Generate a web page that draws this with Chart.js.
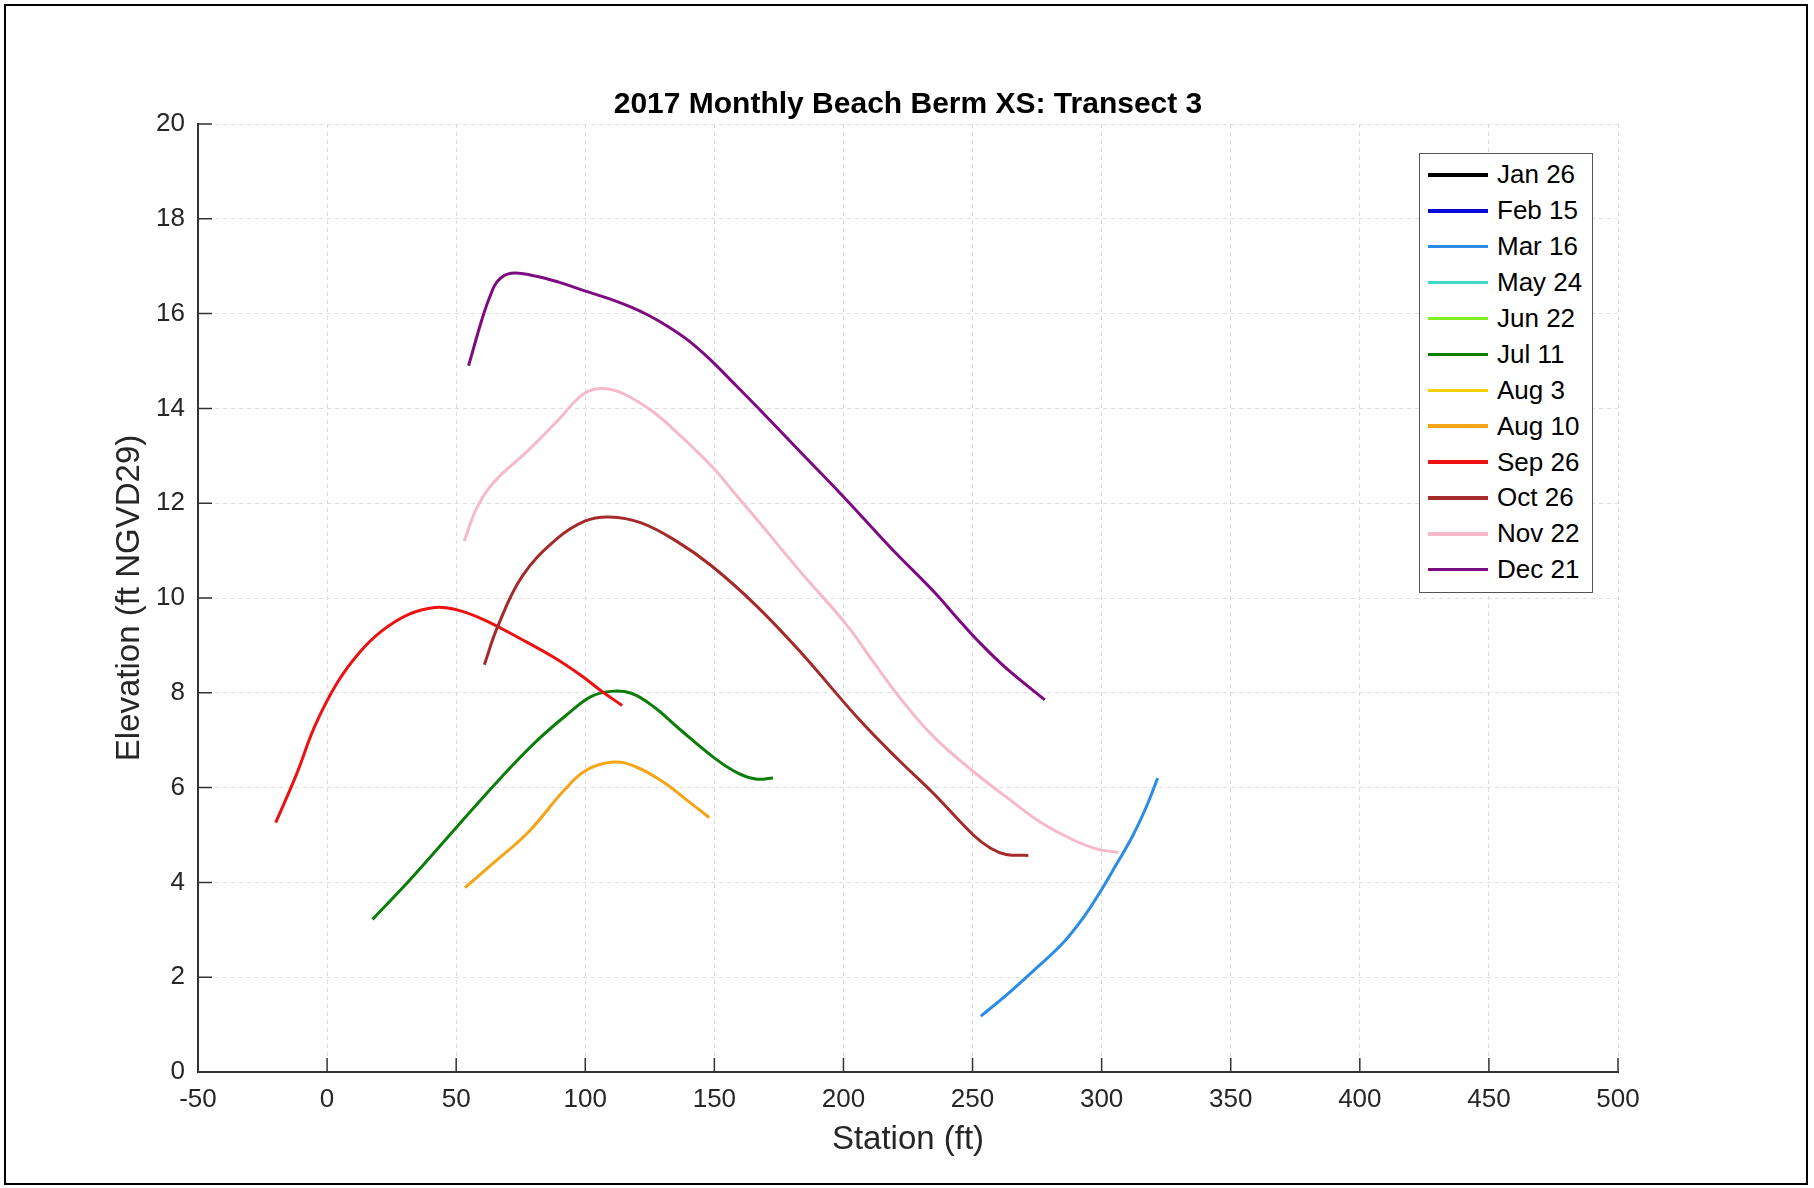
<!DOCTYPE html>
<html lang="en">
  <head>
    <meta charset="UTF-8" />
    <title>2017 Monthly Beach Berm XS: Transect 3</title>
    <style>
      * {
        font-family: "Liberation Sans", Arial, sans-serif;
      }
      body {
        margin: 0;
        background: #fff;
      }
      #wrap {
        position: relative;
        width: 1814px;
        height: 1188px;
      }
      #legend {
        position: absolute;
        left: 1419px;
        top: 153px;
        width: 174px;
        height: 440px;
        box-sizing: border-box;
        border: 1.5px solid #555;
        background: #fff;
        padding-top: 3px;
      }
      .item {
        height: 35.9px;
        display: flex;
        align-items: center;
        font-size: 26px;
        color: #000;
      }
      .swatch {
        width: 60px;
        height: 3.5px;
        margin-left: 8px;
        margin-right: 9px;
      }
    </style>
  </head>
  <body>
    <div id="wrap">
      <canvas id="myChart" width="1814" height="1188"></canvas>
      <div id="legend"></div>
    </div>
    <script src="https://cdn.jsdelivr.net/npm/chart.js@4"></script>
    <script>
      // survey dates (legend order) and their line colours
      const dates = ["Jan 26", "Feb 15", "Mar 16", "May 24", "Jun 22", "Jul 11",
        "Aug 3", "Aug 10", "Sep 26", "Oct 26", "Nov 22", "Dec 21"];
      const colors = ["#000000", "#0a0ad8", "#2b8ce8", "#40d8cc", "#80ee22", "#0a7d0a",
        "#f5d200", "#f5a416", "#ee1111", "#a52a2a", "#f6b9c8", "#7d0a80"];

      // [station ft, elevation ft]
      const jan26 = [];
      const feb15 = [];
      const mar16 = [[253.2, 1.18], [263.1, 1.62], [274.7, 2.19], [285, 2.72], [292.7, 3.24],
        [299.1, 3.77], [305.6, 4.37], [312, 4.98], [317.2, 5.58], [321.7, 6.2]];
      const may24 = [];
      const jun22 = [];
      const jul11 = [[17.6, 3.22], [33.2, 4.12], [50.4, 5.18], [67.7, 6.23], [81.5, 7.0],
        [93.6, 7.57], [102.2, 7.92], [110, 8.03], [117.8, 7.99], [126.4, 7.71], [136.8, 7.22],
        [150.6, 6.6], [159.3, 6.3], [166.1, 6.18], [172.7, 6.2]];
      const aug3 = [];
      const aug10 = [[53.4, 3.89], [64.2, 4.4], [78.1, 5.07], [91.9, 5.95], [100.5, 6.37],
        [110.9, 6.54], [119.5, 6.44], [129.9, 6.13], [140.2, 5.7], [148, 5.37]];
      const sep26 = [[-19.9, 5.26], [-11.7, 6.3], [-4.8, 7.29], [3.8, 8.2], [12.4, 8.84],
        [21.1, 9.3], [31.4, 9.65], [41.8, 9.8], [50.4, 9.75], [60.8, 9.54], [74.6, 9.15],
        [88.4, 8.73], [98.8, 8.35], [105.7, 8.06], [114.3, 7.73]];
      const oct26 = [[60.9, 8.59], [66.1, 9.4], [75.6, 10.46], [88.6, 11.23], [99.8, 11.62],
        [109.3, 11.71], [121.4, 11.59], [135.3, 11.2], [149.1, 10.67], [166.4, 9.83],
        [183.7, 8.84], [206.2, 7.43], [221.8, 6.56], [234.8, 5.88], [250.3, 5.0],
        [257, 4.72], [263, 4.59], [271.6, 4.57]];
      const nov22 = [[53.1, 11.2], [58, 11.9], [64.4, 12.43], [78.2, 13.13], [90, 13.78],
        [96, 14.15], [101, 14.36], [106, 14.42], [112, 14.37], [118, 14.22], [126, 13.94],
        [134, 13.57], [142, 13.16], [150, 12.72], [158, 12.2], [166.4, 11.66], [183.7, 10.53],
        [201, 9.45], [212, 8.62], [221.8, 7.9], [234.8, 7.08], [250.3, 6.34], [263.1, 5.8],
        [276, 5.28], [288.9, 4.9], [297.9, 4.71], [306.5, 4.63]];
      const dec21 = [[54.8, 14.9], [60, 15.88], [63, 16.35], [66.1, 16.69], [71.3, 16.85],
        [80, 16.8], [90, 16.66], [99.8, 16.48], [110, 16.3], [118, 16.13], [125, 15.95],
        [132, 15.73], [140, 15.43], [148, 15.05], [157, 14.56], [166.4, 14.04], [183.7, 13.06],
        [201, 12.08], [218.3, 11.06], [235.6, 10.1], [244, 9.58], [252.9, 9.05], [263, 8.52],
        [278, 7.85]];

      const series = [jan26, feb15, mar16, may24, jun22, jul11, aug3, aug10, sep26, oct26, nov22, dec21];

      // axis ticks
      const xTicks = { min: -50, max: 500, step: 50 };
      const yTicks = { min: 0, max: 20, step: 2 };

      const axisColor = "#333";
      const textColor = "#262626";

      // matlab style ticks pointing into the axes + the outer frame
      const innerTicks = {
        id: "innerTicks",
        afterDraw(chart) {
          const { ctx, chartArea, scales } = chart;
          ctx.save();
          ctx.strokeStyle = axisColor;
          ctx.lineWidth = 1.5;
          ctx.beginPath();
          scales.x.ticks.forEach((t) => {
            const px = scales.x.getPixelForValue(t.value);
            ctx.moveTo(px, chartArea.bottom);
            ctx.lineTo(px, chartArea.bottom - 14);
          });
          scales.y.ticks.forEach((t) => {
            const py = scales.y.getPixelForValue(t.value);
            ctx.moveTo(chartArea.left, py);
            ctx.lineTo(chartArea.left + 14, py);
          });
          ctx.stroke();
          ctx.strokeStyle = "#000";
          ctx.lineWidth = 2;
          ctx.strokeRect(5, 5, 1802, 1179);
          ctx.restore();
        },
      };

      const datasets = series.map((pts, i) => ({
        label: dates[i],
        data: pts.map((p) => ({ x: p[0], y: p[1] })),
        borderColor: colors[i],
        backgroundColor: colors[i],
        borderWidth: 3,
        pointRadius: 0,
        showLine: true,
        tension: 0.4,
        order: series.length - i, // later surveys on top
      }));

      const ctx = document.getElementById("myChart").getContext("2d");
      const chart = new Chart(ctx, {
        type: "scatter",
        data: { datasets: datasets },
        plugins: [innerTicks],
        options: {
          responsive: false,
          animation: false,
          layout: { padding: { top: 0, right: 196, left: 0, bottom: 0 } },
          scales: {
            x: {
              type: "linear",
              min: xTicks.min,
              max: xTicks.max,
              afterFit: (scale) => {
                scale.height = 116;
              },
              grid: { color: "#dcdcdc", lineWidth: 1, drawTicks: false },
              border: { display: true, color: axisColor, width: 2, dash: [4, 4] },
              ticks: {
                stepSize: xTicks.step,
                padding: 12,
                color: textColor,
                font: { size: 26, family: "Liberation Sans" },
              },
              title: {
                display: true,
                text: "Station (ft)",
                color: textColor,
                font: { size: 33, family: "Liberation Sans" },
                padding: { top: 0, bottom: 28 },
              },
            },
            y: {
              type: "linear",
              min: yTicks.min,
              max: yTicks.max,
              afterFit: (scale) => {
                scale.width = 198;
              },
              grid: { color: "#dcdcdc", lineWidth: 1, drawTicks: false },
              border: { display: true, color: axisColor, width: 2, dash: [4, 4] },
              ticks: {
                stepSize: yTicks.step,
                padding: 13,
                color: textColor,
                font: { size: 26, family: "Liberation Sans" },
              },
              title: {
                display: true,
                text: "Elevation (ft NGVD29)",
                color: textColor,
                font: { size: 33, family: "Liberation Sans" },
                padding: { top: 110, bottom: 0 },
              },
            },
          },
          plugins: {
            legend: { display: false },
            tooltip: { enabled: false },
            title: {
              display: true,
              fullSize: false, // centre over the axes, like matlab
              text: "2017 Monthly Beach Berm XS: Transect 3",
              color: "#000",
              font: { size: 30, weight: "bold", family: "Liberation Sans" },
              padding: { top: 87, bottom: 1 },
            },
          },
        },
      });

      // html legend built from the chart datasets
      const legend = document.getElementById("legend");
      chart.data.datasets.forEach((ds) => {
        const row = document.createElement("div");
        row.className = "item";
        const sw = document.createElement("span");
        sw.className = "swatch";
        sw.style.background = ds.borderColor;
        row.appendChild(sw);
        row.appendChild(document.createTextNode(ds.label));
        legend.appendChild(row);
      });
    </script>
  </body>
</html>
